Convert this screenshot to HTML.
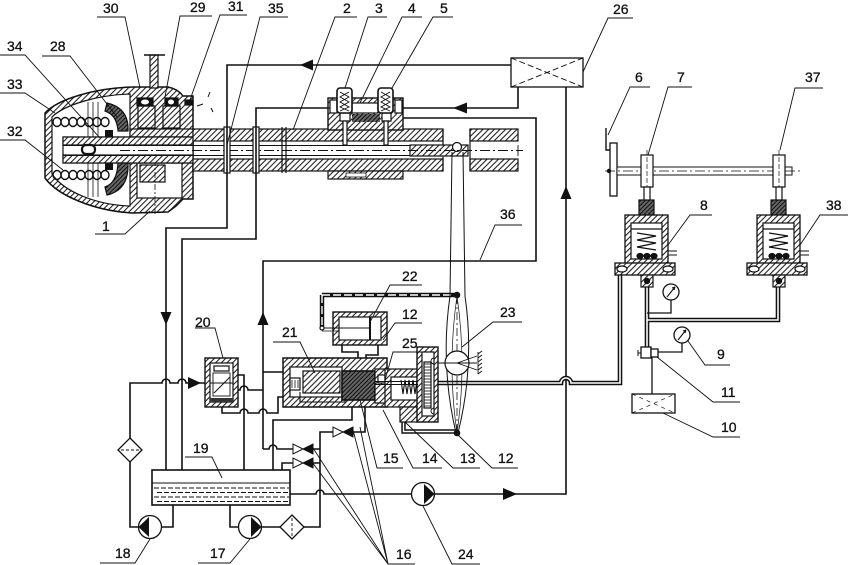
<!DOCTYPE html>
<html><head><meta charset="utf-8"><style>
html,body{margin:0;padding:0;background:#fff;}
svg{display:block;}
text{font-family:"Liberation Sans",sans-serif;font-size:14px;fill:#111;stroke:#111;stroke-width:0.3;}
</style></head><body>
<svg width="848" height="565" viewBox="0 0 848 565" xmlns="http://www.w3.org/2000/svg">
<defs>
<pattern id="h" width="4" height="4" patternUnits="userSpaceOnUse" patternTransform="rotate(45)">
<rect width="4" height="4" fill="#fff"/><line x1="1" y1="0" x2="1" y2="4" stroke="#222" stroke-width="1.1"/></pattern>
<pattern id="dk" width="3" height="3" patternUnits="userSpaceOnUse" patternTransform="rotate(45)">
<rect width="3" height="3" fill="#666"/><line x1="1" y1="0" x2="1" y2="3" stroke="#111" stroke-width="1"/></pattern>
<pattern id="lad" width="7" height="3" patternUnits="userSpaceOnUse">
<rect width="7" height="3" fill="#fff"/><line x1="0" y1="1" x2="7" y2="1" stroke="#222" stroke-width="0.9"/></pattern>
</defs>
<rect width="848" height="565" fill="#fff"/>

<g stroke="#111" fill="none" stroke-width="1.2">
<!-- ===== LEFT HOUSING ===== -->
<path d="M45,113 C58,99 95,88 133,87 L168,87 Q178,89 183,96 L193,96 L193,199 L183,199 L176,206 L168,212 L133,213 C95,211 58,196 45,178 Z" fill="url(#h)" stroke-width="1.5"/>
<path d="M52,117 C64,105 97,95 130,94 L130,206 C97,205 64,192 52,174 Z" fill="#fff"/>
<rect x="137" y="163" width="45" height="35" fill="#fff"/>
<rect x="140" y="165" width="25" height="17" fill="url(#h)"/>
<rect x="130" y="129" width="63" height="8" fill="url(#h)"/>
<rect x="150" y="55" width="8" height="33" fill="url(#h)"/>
<line x1="144" y1="55" x2="165" y2="55" stroke-width="1.6"/>
<rect x="138" y="106" width="17" height="22"/>
<rect x="163" y="106" width="17" height="22"/>
<rect x="137" y="98" width="16" height="8" fill="#111"/><ellipse cx="145" cy="102" rx="4" ry="2.5" fill="#fff" stroke="none"/>
<rect x="165" y="98" width="13" height="8" fill="#111"/><ellipse cx="171" cy="102" rx="3" ry="2.5" fill="#fff" stroke="none"/>
<rect x="185" y="100" width="8" height="5" fill="#111"/>
<path d="M197,106 L203,104 M208,97 L210,92 M211,108 L213,112" stroke-width="1"/>
<line x1="155" y1="160" x2="155" y2="216" stroke-dasharray="6 2 2 2" stroke-width="0.8"/>
<!-- inner tube -->
<rect x="63" y="137" width="130" height="26" fill="#fff"/>
<rect x="63" y="137" width="130" height="8" fill="url(#h)"/>
<rect x="63" y="155" width="130" height="8" fill="url(#h)"/>
<rect x="82" y="145" width="13" height="9" rx="4" fill="#fff" stroke-width="2.2"/>
<!-- springs -->
<g stroke-width="1.4">
<ellipse cx="57" cy="122" rx="4" ry="4.5"/><ellipse cx="65" cy="122" rx="4" ry="4.5"/><ellipse cx="73" cy="122" rx="4" ry="4.5"/><ellipse cx="81" cy="122" rx="4" ry="4.5"/><ellipse cx="89" cy="122" rx="4" ry="4.5"/><ellipse cx="97" cy="122" rx="4" ry="4.5"/><ellipse cx="105" cy="122" rx="4" ry="4.5"/>
<ellipse cx="57" cy="175" rx="4" ry="4.5"/><ellipse cx="65" cy="175" rx="4" ry="4.5"/><ellipse cx="73" cy="175" rx="4" ry="4.5"/><ellipse cx="81" cy="175" rx="4" ry="4.5"/><ellipse cx="89" cy="175" rx="4" ry="4.5"/><ellipse cx="97" cy="175" rx="4" ry="4.5"/><ellipse cx="105" cy="175" rx="4" ry="4.5"/>
</g>
<path d="M88,102 V137 M93,102 V137 M98,102 V137 M88,163 V197 M93,163 V197 M98,163 V197" stroke-width="0.8"/>
<path d="M107,103 Q129,108 128,131 L118,131 Q117,115 105,111 Z" fill="url(#dk)"/>
<path d="M107,195 Q129,190 128,163 L118,163 Q117,183 105,187 Z" fill="url(#dk)"/>
<rect x="105" y="130" width="8" height="7" fill="#111" stroke="none"/>
<rect x="105" y="163" width="8" height="7" fill="#111" stroke="none"/>

<!-- ===== SHAFT ===== -->
<rect x="193" y="129" width="250" height="12" fill="url(#h)"/>
<rect x="193" y="159" width="250" height="12" fill="url(#h)"/>
<rect x="470" y="129" width="48" height="12" fill="url(#h)"/>
<rect x="470" y="159" width="48" height="12" fill="url(#h)"/>
<path d="M443,129 V171 M470,129 V171"/>
<path d="M63,145.5 H410 M63,155.5 H410" stroke-width="0.9"/>
<rect x="410" y="145" width="58" height="11" fill="url(#h)"/>
<circle cx="457" cy="147" r="4.5" fill="#fff"/>
<line x1="120" y1="150.5" x2="523" y2="150.5" stroke-dasharray="10 3 2 3" stroke-width="0.9"/>
<line x1="518" y1="145" x2="518" y2="156" stroke-width="0.9"/>
<rect x="224" y="127" width="6" height="46" fill="#fff"/>
<rect x="253" y="127" width="6" height="46" fill="#fff"/>
<path d="M282,127 V173 M286,127 V173" />
<!-- solenoid block -->
<rect x="328" y="98" width="75" height="32" fill="url(#h)" stroke-width="1.4"/>
<rect x="330" y="100" width="7" height="13" fill="#fff"/>
<rect x="395" y="100" width="7" height="13" fill="#fff"/>
<rect x="352" y="103" width="26" height="10" fill="#fff"/>
<rect x="352" y="114" width="28" height="8" fill="url(#dk)" stroke="none"/>
<rect x="340" y="113" width="10" height="8" fill="#fff"/>
<rect x="382" y="113" width="9" height="8" fill="#fff"/>
<rect x="343" y="121" width="4" height="24" fill="#fff"/>
<rect x="384" y="121" width="4" height="24" fill="#fff"/>
<rect x="337" y="88" width="15" height="25" rx="3" fill="#fff" stroke-width="1.6"/>
<rect x="378" y="88" width="15" height="25" rx="3" fill="#fff" stroke-width="1.6"/>
<polyline points="340,92 349,97 340,102 349,107 340,111" stroke-width="0.9"/>
<polyline points="349,92 340,97 349,102 340,107 349,111" stroke-width="0.9"/>
<polyline points="381,92 390,97 381,102 390,107 381,111" stroke-width="0.9"/>
<polyline points="390,92 381,97 390,102 381,107 390,111" stroke-width="0.9"/>
<rect x="328" y="171" width="75" height="8" fill="url(#h)"/>
<rect x="346" y="173" width="20" height="4" fill="#fff" stroke-width="0.8"/>

<!-- ===== BOX 26 ===== -->
<rect x="511" y="58" width="72" height="29" fill="#fff" stroke-width="1.3"/>
<path d="M511,58 L583,87 M511,87 L583,58" stroke-dasharray="6 3" stroke-width="0.9"/>

<!-- ===== PIPELINES ===== -->
<g stroke-width="1.6">
<path d="M511,65 H227 V228 H166 V470"/>
<path d="M518,87 V108 H403"/>
<path d="M328,108 H256 V239 H182 V470"/>
<path d="M403,118 H536 V261 H263 V449"/>
<path d="M263,449 H269 A4,4 0 0 1 277,449 H293"/>
<path d="M263,372 H283"/>
<path d="M566,87 V494 H435"/>
<path d="M411,494 H324 A4,4 0 0 0 316,494 H290" />
<path d="M130,438 V383 H162 A4,4 0 0 1 170,383 H178 A4,4 0 0 1 186,383 H205"/>
<path d="M130,462 V527 H139"/>
<path d="M162,527 H173 V505"/>
<path d="M230,505 V527 H239"/>
<path d="M261,527 H280"/>
<path d="M304,527 H320 V432 H333"/>
<path d="M353,432 H365 V407"/>
<path d="M313,449 H320 M313,463 H320"/>
<path d="M293,463 H282 V470"/>
<path d="M273,470 V420 H352 V407"/>
<path d="M238,375 H244 V470"/>
<path d="M238,390 H240 A4,4 0 0 1 248,390 H263"/>
<path d="M222,407 V413 H240 A4,4 0 0 1 248,413 H259 A4,4 0 0 1 267,413 H278 V397 H283"/>
<path d="M342,345 V352 H358 V358"/>
<path d="M378,345 V355 H366 V358"/>
</g>
<!-- double pipes -->
<g>
<path d="M418,383 H561 A5,5 0 0 1 571,383 H620 V275" stroke="#111" stroke-width="4.6"/>
<path d="M418,383 H561 A5,5 0 0 1 571,383 H620 V275" stroke="#fff" stroke-width="1.6"/>
<path d="M647,287 V348 M647,320 H778 V287" stroke="#111" stroke-width="4.6"/>
<path d="M647,287 V348 M647,320 H778 V287" stroke="#fff" stroke-width="1.6"/>
<path d="M457,431.5 H403.5 V420" stroke="#111" stroke-width="4.4"/>
<path d="M457,431.5 H403.5 V420" stroke="#fff" stroke-width="1.4"/>
<path d="M322,295 H457 M322,295 V328" stroke="#111" stroke-width="4.4"/>
<path d="M322,295 H457 M322,295 V328" stroke="#fff" stroke-width="1.4" stroke-dasharray="8 3"/>
</g>
<path d="M647,313 H671 V300 M657,352 H682 V343 M652,357 V394" stroke-width="1.3"/>

<!-- arrows -->
<g fill="#111" stroke="none">
<polygon points="300,65 313,59.5 313,70.5"/>
<polygon points="166,325 160.5,312 171.5,312"/>
<polygon points="453,108 467,102.5 467,113.5"/>
<polygon points="263,312 257.5,325 268.5,325"/>
<polygon points="566,186 560.5,199 571.5,199"/>
<polygon points="517,494 503,488 503,500"/>
<polygon points="201,383 188,377 188,389"/>
</g>

<!-- ===== VALVE 20 ===== -->
<rect x="205" y="358" width="33" height="49" fill="url(#h)" stroke-width="1.4"/>
<rect x="210" y="363" width="23" height="39" fill="#fff"/>
<rect x="214" y="366" width="15" height="5"/>
<rect x="213" y="373" width="17" height="23" stroke-width="0.9"/>
<line x1="210" y1="383" x2="233" y2="383" stroke-width="0.9"/>
<line x1="214" y1="393" x2="230" y2="377" stroke-width="1"/>
<rect x="210" y="398" width="23" height="4" fill="#333" stroke="none"/>

<!-- ===== CYLINDER 22 ===== -->
<rect x="333" y="312" width="54" height="33" fill="url(#h)" stroke-width="1.4"/>
<rect x="339" y="317" width="42" height="23" fill="#fff"/>
<line x1="370" y1="317" x2="370" y2="340" stroke-width="2"/>
<line x1="322" y1="328" x2="370" y2="328" stroke-width="1"/>
<line x1="322" y1="331" x2="339" y2="331" stroke-width="0.8"/>
<circle cx="322" cy="328" r="2" fill="#fff"/>

<!-- ===== VALVE 21 / 15 / 25 / 14 / 13 ===== -->
<rect x="283" y="358" width="104" height="49" fill="url(#h)" stroke-width="1.5"/>
<rect x="290" y="367" width="52" height="30" fill="#fff"/>
<rect x="303" y="371" width="37" height="22" fill="url(#h)"/>
<rect x="290" y="378" width="10" height="12" fill="#fff" stroke-width="1.2"/>
<path d="M292,380 V388 M295,380 V388 M298,380 V388" stroke-width="0.8"/>
<path d="M290,397 H345 V402 H300 V392" stroke-width="1.1"/>
<rect x="342" y="371" width="33" height="29" fill="url(#dk)" stroke-width="1.6"/>
<rect x="375" y="369" width="12" height="34" fill="url(#h)"/>
<rect x="378" y="375" width="7" height="8" fill="#fff"/>
<rect x="385" y="369" width="33" height="38" fill="url(#h)"/>
<rect x="391" y="377" width="27" height="23" fill="#fff"/>
<rect x="400" y="407" width="18" height="15" fill="url(#h)"/>
<rect x="417" y="347" width="21" height="75" fill="url(#h)" stroke-width="1.4"/>
<rect x="422" y="352" width="12" height="64" fill="#fff"/>
<rect x="424" y="362" width="7" height="46" fill="url(#lad)"/>
<path d="M434,358 a3,3 0 0 0 0,6 M434,408 a3,3 0 0 0 0,6" stroke-width="0.9"/>
<polyline points="401,380 403,394 405,380 407,394 409,380 411,394 413,380 415,394 417,380" stroke-width="1.1"/>
<path d="M375,381.5 H418 M375,384.5 H418" stroke-width="0.9"/>

<!-- ===== CHECK VALVES 16 ===== -->
<g stroke-width="1">
<polygon points="333,427 333,437 343,432" fill="#fff"/><polygon points="353,427 353,437 343,432" fill="#111"/>
<polygon points="293,444 293,454 303,449" fill="#fff"/><polygon points="313,444 313,454 303,449" fill="#111"/>
<polygon points="293,458 293,468 303,463" fill="#fff"/><polygon points="313,458 313,468 303,463" fill="#111"/>
</g>

<!-- ===== TANK 19 ===== -->
<rect x="152" y="470" width="138" height="35" fill="#fff" stroke-width="1.6"/>
<line x1="152" y1="483" x2="290" y2="483" stroke-width="1.1"/>
<g stroke-width="1" stroke-dasharray="5 2">
<line x1="154" y1="488" x2="289" y2="488"/>
<line x1="157" y1="492.5" x2="289" y2="492.5"/>
<line x1="154" y1="497" x2="289" y2="497"/>
<line x1="157" y1="501.5" x2="289" y2="501.5"/>
</g>

<!-- filters -->
<polygon points="130,438 142,450 130,462 118,450" fill="#fff" stroke-width="1.3"/>
<line x1="121" y1="450" x2="139" y2="450" stroke-dasharray="3 2" stroke-width="0.9"/>
<polygon points="292,515 304,527 292,539 280,527" fill="#fff" stroke-width="1.3"/>
<line x1="292" y1="518" x2="292" y2="536" stroke-dasharray="3 2" stroke-width="0.9"/>

<!-- pumps -->
<circle cx="150" cy="527" r="11.5" fill="#fff" stroke-width="1.3"/>
<polygon points="138.5,527 149,517 149,537" fill="#111" stroke="none"/>
<circle cx="250" cy="527" r="11.5" fill="#fff" stroke-width="1.3"/>
<polygon points="261.5,527 251,517 251,537" fill="#111" stroke="none"/>
<circle cx="423" cy="494" r="11.5" fill="#fff" stroke-width="1.3"/>
<polygon points="434.5,494 424,484 424,504" fill="#111" stroke="none"/>

<!-- ===== LEVER 23 ===== -->
<path d="M452,152 L450,296 Q440,365 456,433" stroke-width="1"/>
<path d="M463,152 L465,296 Q475,365 458,433" stroke-width="1"/>
<path d="M457,296 Q447,365 457,433 M457,296 Q467,365 457,433" stroke-width="0.7"/>
<line x1="457" y1="296" x2="457" y2="433" stroke-dasharray="8 3 2 3" stroke-width="0.8"/>
<circle cx="457" cy="363" r="12" fill="#fff" stroke-width="1.2"/>
<path d="M438,363 H477 M457,363 L477,356 M457,363 L477,370" stroke-width="0.9"/>
<path d="M478,352 V374 M478,354 l4,-3 M478,358 l4,-3 M478,362 l4,-3 M478,366 l4,-3 M478,370 l4,-3 M478,374 l4,-3" stroke-width="0.9"/>
<circle cx="457" cy="295" r="3.3" fill="#111" stroke="none"/>
<circle cx="457" cy="433" r="3.3" fill="#111" stroke="none"/>

<!-- ===== PEDAL ===== -->
<polyline points="606,128 606,150 610,150" stroke-width="1.4"/>
<rect x="610" y="143" width="7" height="53" fill="#fff" stroke-width="1.3"/>
<rect x="617" y="167" width="175" height="8" fill="#fff" stroke-width="1"/>
<line x1="605" y1="171" x2="800" y2="171" stroke-dasharray="10 3 2 3" stroke-width="0.7"/>
<circle cx="609" cy="171" r="2.2" fill="#111" stroke="none"/>
<rect x="641" y="155" width="12" height="32" fill="#fff" stroke-width="1.2"/>
<rect x="773" y="155" width="12" height="32" fill="#fff" stroke-width="1.2"/>
<line x1="647" y1="150" x2="647" y2="192" stroke-dasharray="5 2" stroke-width="0.7"/>
<line x1="779" y1="150" x2="779" y2="192" stroke-dasharray="5 2" stroke-width="0.7"/>

<g>
<rect x="644" y="187" width="6" height="14" fill="#fff"/>
<rect x="639" y="200" width="15" height="16" fill="url(#dk)"/>
<rect x="625" y="215" width="43" height="49" fill="url(#h)" stroke-width="1.3"/>
<rect x="631" y="223" width="31" height="36" fill="#fff"/>
<line x1="631" y1="229" x2="662" y2="229"/>
<polyline points="637,233 656,236 637,240 656,243 637,247 656,250" stroke-width="1.3"/>
<ellipse cx="640" cy="256" rx="3" ry="2.5" fill="#111"/><ellipse cx="647" cy="256" rx="3" ry="2.5" fill="#111"/><ellipse cx="654" cy="256" rx="3" ry="2.5" fill="#111"/>
<rect x="615" y="263" width="60" height="12" fill="url(#h)" stroke-width="1.3"/>
<ellipse cx="622" cy="269" rx="5" ry="3" fill="#fff"/><ellipse cx="668" cy="269" rx="5" ry="3" fill="#fff"/>
<rect x="641" y="275" width="12" height="12" fill="url(#h)"/>
<circle cx="647" cy="281" r="2.6" fill="#111"/>
<path d="M668,251 H677 M668,255 H677" stroke-width="1"/>
</g>
<g transform="translate(132,0)">
<rect x="644" y="187" width="6" height="14" fill="#fff"/>
<rect x="639" y="200" width="15" height="16" fill="url(#dk)"/>
<rect x="625" y="215" width="43" height="49" fill="url(#h)" stroke-width="1.3"/>
<rect x="631" y="223" width="31" height="36" fill="#fff"/>
<line x1="631" y1="229" x2="662" y2="229"/>
<polyline points="637,233 656,236 637,240 656,243 637,247 656,250" stroke-width="1.3"/>
<ellipse cx="640" cy="256" rx="3" ry="2.5" fill="#111"/><ellipse cx="647" cy="256" rx="3" ry="2.5" fill="#111"/><ellipse cx="654" cy="256" rx="3" ry="2.5" fill="#111"/>
<rect x="615" y="263" width="60" height="12" fill="url(#h)" stroke-width="1.3"/>
<ellipse cx="622" cy="269" rx="5" ry="3" fill="#fff"/><ellipse cx="668" cy="269" rx="5" ry="3" fill="#fff"/>
<rect x="641" y="275" width="12" height="12" fill="url(#h)"/>
<circle cx="647" cy="281" r="2.6" fill="#111"/>
<path d="M668,251 H677 M668,255 H677" stroke-width="1"/>
</g>

<!-- gauges / 11 / 10 -->
<circle cx="671" cy="292" r="8" fill="#fff" stroke-width="1.3"/>
<path d="M667,297 L675,287 M675,287 l-3,1 M675,287 l-1,3" stroke-width="1.1"/>
<circle cx="682" cy="335" r="8" fill="#fff" stroke-width="1.3"/>
<path d="M678,340 L686,330 M686,330 l-3,1 M686,330 l-1,3" stroke-width="1.1"/>
<rect x="641" y="347" width="10" height="11" fill="#fff" stroke-width="1.3"/>
<rect x="651" y="349" width="7" height="8" fill="#fff" stroke-width="1.3"/>
<path d="M638,350 V356 M638,353 H641" stroke-width="1"/>
<rect x="632" y="394" width="43" height="19" fill="#fff" stroke-width="1.3"/>
<path d="M632,394 L675,413 M632,413 L675,394" stroke-dasharray="4 4" stroke-width="0.7"/>

<!-- ===== LEADER LINES ===== -->
<g stroke-width="0.9">
<path d="M97,17 H125 L140,88"/>
<path d="M212,16 H180 L165,97"/>
<path d="M247,15 H220 L190,100"/>
<path d="M288,17 H260 L227,145"/>
<path d="M357,17 H335 L293,130"/>
<path d="M387,17 H368 L345,88"/>
<path d="M422,17 H402 L360,103"/>
<path d="M453,17 H433 L392,88"/>
<path d="M633,18 H608 L583,72"/>
<path d="M0,55 H25 L100,138"/>
<path d="M42,56 H70 L117,117"/>
<path d="M0,93 H25 L55,113"/>
<path d="M0,140 H25 L63,170"/>
<path d="M95,234 H125 L150,211"/>
<path d="M650,87 H630 L608,135"/>
<path d="M692,87 H668 L648,155"/>
<path d="M823,88 H795 L780,150"/>
<path d="M712,215 H690 L668,245"/>
<path d="M848,215 H820 L800,245"/>
<path d="M730,365 H705 L688,341"/>
<path d="M740,402 H713 L657,357"/>
<path d="M740,437 H713 L663,413"/>
<path d="M195,328 H215 L223,358"/>
<path d="M273,342 H300 L315,373"/>
<path d="M422,285 H390 L370,322"/>
<path d="M422,323 H395 L383,340"/>
<path d="M422,352 H393 L385,380"/>
<path d="M522,322 H493 L462,347"/>
<path d="M522,225 H495 L480,260"/>
<path d="M185,457 H212 L222,478"/>
<path d="M403,468 H377 L360,400"/>
<path d="M442,468 H413 L383,410"/>
<path d="M480,468 H453 L405,422"/>
<path d="M518,468 H492 L455,432"/>
<path d="M415,564 H388 L313,448 M388,564 L312,462 M388,564 L353,430 M388,564 L360,427"/>
<path d="M480,564 H452 L423,506"/>
<path d="M100,563 H135 L150,539"/>
<path d="M198,563 H230 L250,539"/>
</g>
</g>

<!-- ===== LABELS ===== -->
<g>
<text x="103" y="13">30</text>
<text x="190" y="12">29</text>
<text x="228" y="11">31</text>
<text x="268" y="13">35</text>
<text x="343" y="13">2</text>
<text x="375" y="13">3</text>
<text x="408" y="13">4</text>
<text x="440" y="13">5</text>
<text x="613" y="14">26</text>
<text x="7" y="51">34</text>
<text x="50" y="51">28</text>
<text x="7" y="89">33</text>
<text x="7" y="136">32</text>
<text x="102" y="231">1</text>
<text x="635" y="82">6</text>
<text x="677" y="82">7</text>
<text x="805" y="82">37</text>
<text x="700" y="210">8</text>
<text x="826" y="210">38</text>
<text x="717" y="359">9</text>
<text x="721" y="397">11</text>
<text x="721" y="432">10</text>
<text x="195" y="327">20</text>
<text x="282" y="337">21</text>
<text x="402" y="281">22</text>
<text x="402" y="319">12</text>
<text x="402" y="348">25</text>
<text x="500" y="317">23</text>
<text x="500" y="219">36</text>
<text x="193" y="453">19</text>
<text x="383" y="463">15</text>
<text x="422" y="463">14</text>
<text x="460" y="463">13</text>
<text x="498" y="463">12</text>
<text x="396" y="559">16</text>
<text x="458" y="559">24</text>
<text x="115" y="558">18</text>
<text x="210" y="558">17</text>
</g>
</svg>
</body></html>
